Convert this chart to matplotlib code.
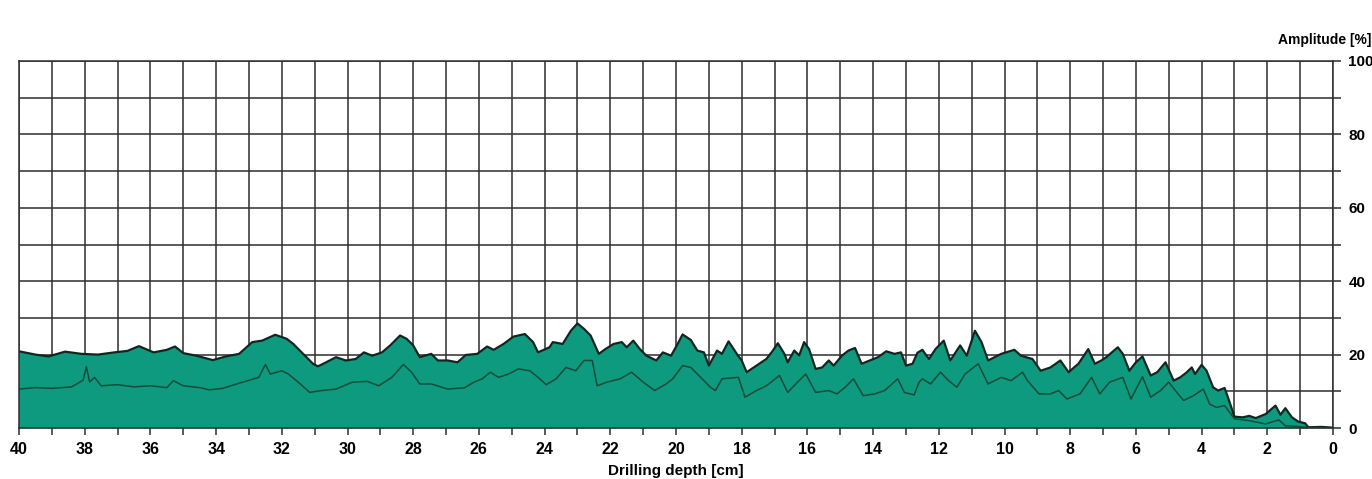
import numpy as np
import matplotlib.pyplot as plt
from matplotlib.ticker import MultipleLocator

plt.rcParams['font.family'] = ['Liberation Sans', 'DejaVu Sans']

# Upper envelope of the amplitude curve (depth [cm], amplitude [%])
upper_depth = [40.0, 39.5, 39.1, 38.6, 38.1, 37.6, 37.1, 36.7, 36.35, 35.9, 35.5, 35.25, 35.0, 34.6,
               34.1, 33.7, 33.3, 32.9, 32.6, 32.2, 31.85, 31.65, 31.35, 31.05, 30.9, 30.65, 30.35,
               30.05, 29.75, 29.5, 29.25, 28.95, 28.7, 28.4, 28.2, 28.0, 27.8, 27.45, 27.25, 26.95,
               26.65, 26.4, 26.05, 25.75, 25.55, 25.25, 24.95, 24.6, 24.35, 24.2, 23.85, 23.75,
               23.45, 23.2, 23.0, 22.8, 22.6, 22.35, 22.15, 21.9, 21.65, 21.5, 21.3, 21.1, 20.9,
               20.6, 20.4, 20.15, 19.95, 19.8, 19.55, 19.35, 19.15, 19.0, 18.75, 18.6, 18.4, 18.15,
               18.0, 17.85, 17.55, 17.25, 17.05, 16.9, 16.7, 16.6, 16.4, 16.25, 16.1, 15.95, 15.75,
               15.55, 15.35, 15.2, 14.95, 14.75, 14.55, 14.35, 14.1, 13.85, 13.6, 13.35, 13.15,
               13.0, 12.8, 12.65, 12.5, 12.3, 12.1, 11.85, 11.65, 11.35, 11.15, 10.9, 10.7, 10.5,
               10.1, 9.7, 9.5, 9.15, 8.9, 8.6, 8.3, 8.05, 7.75, 7.45, 7.25, 7.05, 6.9, 6.55, 6.4,
               6.2, 6.0, 5.8, 5.55, 5.35, 5.1, 4.85, 4.65, 4.45, 4.3, 4.2, 4.0, 3.85, 3.65, 3.5,
               3.3, 3.2, 3.0, 2.75, 2.55, 2.35, 2.05, 1.75, 1.6, 1.45, 1.25, 1.05, 0.85, 0.75,
               0.35, 0.0]
upper_amp = [20.9, 20.0, 19.5, 20.8, 20.2, 20.0, 20.6, 21.0, 22.3, 20.6, 21.3, 22.2, 20.4, 19.7,
             18.5, 19.5, 20.2, 23.4, 23.8, 25.4, 24.3, 22.9, 20.2, 17.5, 16.8, 17.9, 19.3,
             18.4, 18.8, 20.6, 19.7, 20.6, 22.5, 25.2, 24.3, 22.5, 19.3, 20.2, 18.4, 18.4,
             17.9, 19.9, 20.2, 22.2, 21.3, 22.9, 24.9, 25.6, 23.4, 20.6, 22.0, 23.4,
             22.9, 26.5, 28.5, 27.0, 25.2, 20.2, 21.5, 22.9, 23.4, 22.0, 23.8, 21.5, 19.7,
             18.4, 20.6, 19.7, 22.9, 25.5, 24.0, 21.1, 20.6, 17.0, 21.1, 20.2, 23.6, 20.2,
             18.4, 15.2, 17.0, 18.8, 21.1, 23.1, 20.2, 17.9, 21.1, 19.8, 23.4, 21.5, 16.1,
             16.5, 18.4, 17.0, 19.7, 21.1, 21.8, 17.5, 18.4, 19.3, 20.9, 20.2, 20.6,
             17.0, 17.5, 20.5, 21.3, 18.8, 21.5, 23.8, 18.4, 22.5, 19.7, 26.5, 23.4, 18.4,
             20.2, 21.3, 19.7, 18.8, 15.6, 16.5, 18.4, 15.2, 17.5, 21.5, 17.5, 18.4, 19.3, 22.0, 20.2,
             15.6, 17.9, 19.5, 14.3, 15.2, 17.9, 12.9, 13.8, 15.2, 16.5, 14.7, 17.2, 15.6, 11.1, 10.2,
             10.9, 8.4, 3.1, 2.9, 3.3, 2.7, 3.8, 6.1, 3.6, 5.4, 2.9, 1.7, 1.3, 0.2,
             0.3, 0.1]

# Lower amplitude curve
lower_depth = [40.0, 39.5, 39.0, 38.4, 38.05, 37.95, 37.85, 37.7, 37.5, 37.0, 36.5, 36.0, 35.5, 35.3,
               35.0, 34.5, 34.2, 33.8, 33.3, 32.7, 32.5, 32.35, 32.0, 31.8, 31.5, 31.15, 30.8, 30.35,
               29.85, 29.4, 29.05, 28.65, 28.3, 28.05, 27.8, 27.45, 26.95, 26.55, 26.45, 26.15, 25.9,
               25.65, 25.4, 25.1, 24.8, 24.45, 24.2, 23.95, 23.65, 23.35, 23.05, 22.8, 22.55, 22.4,
               22.1, 21.7, 21.35, 21.0, 20.65, 20.3, 20.1, 19.8, 19.55, 19.25, 18.95, 18.8, 18.6,
               18.1, 17.9, 17.55, 17.25, 16.85, 16.6, 16.3, 16.05, 15.75, 15.35, 15.1, 14.85, 14.6,
               14.3, 13.95, 13.65, 13.25, 13.05, 12.75, 12.6, 12.5, 12.25, 11.95, 11.7, 11.45, 11.2,
               10.8, 10.5, 10.1, 9.8, 9.45, 9.3, 8.95, 8.6, 8.35, 8.1, 7.7, 7.35, 7.1, 6.8, 6.4,
               6.15, 5.8, 5.55, 5.25, 5.0, 4.8, 4.55, 4.25, 3.95, 3.75, 3.55, 3.3, 3.0, 2.55, 2.05,
               1.65, 1.45, 1.05, 0.75, 0.0]
lower_amp = [10.6, 11.0, 10.8, 11.2, 13.0, 16.7, 12.5, 13.8, 11.5, 11.8, 11.2, 11.5, 11.0, 12.9,
             11.5, 11.0, 10.4, 10.8, 12.2, 13.8, 17.3, 14.7, 15.6, 14.7, 12.5, 9.7, 10.2, 10.6,
             12.5, 12.7, 11.5, 13.8, 17.3, 15.2, 12.0, 12.0, 10.6, 10.9, 10.9, 12.5, 13.4,
             15.2, 13.8, 14.7, 16.1, 15.6, 13.8, 11.8, 13.4, 16.5, 15.6, 18.4, 18.4, 11.5,
             12.5, 13.4, 15.2, 12.5, 10.2, 12.0, 13.4, 17.0, 16.5, 13.8, 11.1, 10.2, 13.4,
             13.8, 8.4, 10.2, 11.5, 14.3, 9.7, 12.5, 14.7, 9.7, 10.2, 9.3, 11.1, 13.4,
             8.8, 9.3, 10.2, 13.4, 9.7, 9.0, 12.5, 13.4, 12.0, 15.2, 12.9, 11.1, 14.7,
             17.5, 12.0, 13.8, 12.9, 15.2, 12.9, 9.3, 9.3, 10.2, 7.9, 9.3, 13.8, 9.3, 12.5, 13.8,
             7.9, 14.0, 8.4, 10.2, 12.5, 10.2, 7.5, 8.8, 10.6, 6.5, 5.6, 6.1, 2.5, 2.0, 1.1,
             2.2, 0.6, 0.4, 0.1, 0.0]

fig = plt.figure(figsize=(13.72, 4.79), dpi=100)
ax = fig.add_axes([19 / 1372, 51 / 479, (1333 - 19) / 1372, (428 - 61) / 479])

grid_col = '#2e2e2e'
ax.fill_between(upper_depth, 0, upper_amp, color='#0e9a7e', zorder=3, linewidth=0)
ax.plot(upper_depth, upper_amp, color='#10261f', linewidth=1.6, zorder=4)
ax.plot(lower_depth, lower_amp, color='#1b4a3a', linewidth=1.1, zorder=4)

ax.set_xlim(40, 0)
ax.set_ylim(0, 100)

ax.xaxis.set_major_locator(MultipleLocator(2))
ax.xaxis.set_minor_locator(MultipleLocator(1))
ax.yaxis.set_major_locator(MultipleLocator(20))
ax.yaxis.set_minor_locator(MultipleLocator(10))
ax.yaxis.tick_right()
ax.tick_params(axis='both', which='both', direction='out', length=5, width=1.1,
               color=grid_col, labelsize=11.5, pad=5)
ax.tick_params(axis='y', which='both', length=6, pad=5, labelsize=11)
for lbl in ax.get_xticklabels() + ax.get_yticklabels():
    lbl.set_fontweight('bold')

ax.grid(True, which='both', color=grid_col, linewidth=1.1, zorder=1)
ax.set_axisbelow(True)
for s in ax.spines.values():
    s.set_color(grid_col)
    s.set_linewidth(1.1)
    s.set_zorder(5)

ax.set_xlabel('Drilling depth [cm]', fontsize=11, fontweight='bold', labelpad=5)
fig.text(1278 / 1372, 1 - 40 / 479, 'Amplitude [%]', fontsize=10, fontweight='bold',
         ha='left', va='center')

fig.savefig('out.png', dpi=100)
